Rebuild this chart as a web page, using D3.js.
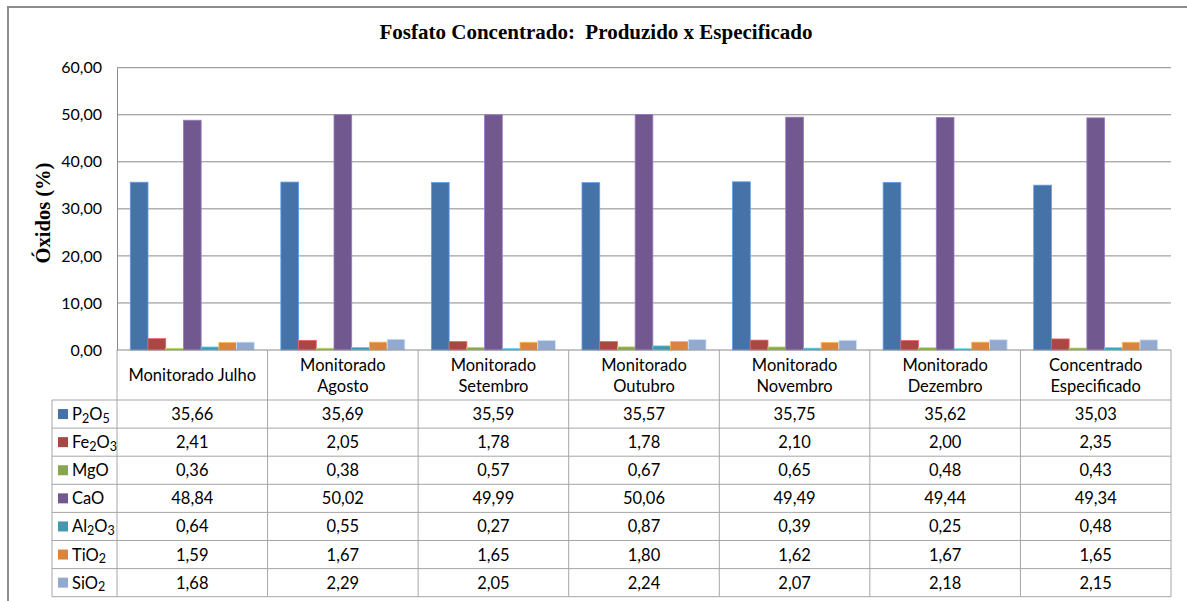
<!DOCTYPE html>
<html><head><meta charset="utf-8">
<script src="https://cdn.jsdelivr.net/npm/d3@7"></script>
<style>
html,body{margin:0;padding:0;background:#fff;}
svg{display:block;}
</style></head>
<body>
<svg id="chart" width="1187" height="601"></svg>
<script>
const categories = ["Monitorado Julho", "Monitorado\nAgosto", "Monitorado\nSetembro", "Monitorado\nOutubro", "Monitorado\nNovembro", "Monitorado\nDezembro", "Concentrado\nEspecificado"];
const series = ["P2O5", "Fe2O3", "MgO", "CaO", "Al2O3", "TiO2", "SiO2"];
const P2O5  = [35.66, 35.69, 35.59, 35.57, 35.75, 35.62, 35.03];
const Fe2O3 = [2.41, 2.05, 1.78, 1.78, 2.10, 2.00, 2.35];
const MgO   = [0.36, 0.38, 0.57, 0.67, 0.65, 0.48, 0.43];
const CaO   = [48.84, 50.02, 49.99, 50.06, 49.49, 49.44, 49.34];
const Al2O3 = [0.64, 0.55, 0.27, 0.87, 0.39, 0.25, 0.48];
const TiO2  = [1.59, 1.67, 1.65, 1.80, 1.62, 1.67, 1.65];
const SiO2  = [1.68, 2.29, 2.05, 2.24, 2.07, 2.18, 2.15];
const yTicks = [0, 10, 20, 30, 40, 50, 60];
const title = "Fosfato Concentrado:  Produzido x Especificado";
const yTitle = "Óxidos (%)";
const colors = ["#4572A7", "#AA4643", "#89A54E", "#71588F", "#4198AF", "#DB843D", "#93A9CF"];

(function () {
const values = [P2O5, Fe2O3, MgO, CaO, Al2O3, TiO2, SiO2];
const locale = d3.formatLocale({decimal: ",", thousands: ".", grouping: [3], currency: ["", ""]});
const fmt = locale.format(".2f");

const svg = d3.select("#chart");
const sansFont = "Lato, 'Open Sans', sans-serif";
const serifFont = "'Liberation Serif', 'DejaVu Serif', serif";
const fs = 16.5;

const pLeft = 117, pRight = 1171, pTop = 67.7, pBottom = 350;
const headerH = 50, rowH = 28.1, legendLeft = 52;
const tableTop = pBottom + headerH;
const tableBottom = tableTop + rowH * series.length;

// outer border
svg.append("rect").attr("x", 8).attr("y", 7).attr("width", 1200).attr("height", 620)
  .attr("fill", "none").attr("stroke", "#8c8c8c").attr("stroke-width", 2);

// title
svg.append("text").attr("x", 596).attr("y", 39).attr("text-anchor", "middle")
  .attr("font-family", serifFont).attr("font-weight", "bold").attr("font-size", 21)
  .attr("fill", "#000").style("white-space", "pre").text(title);

const x0 = d3.scaleBand().domain(categories).range([pLeft, pRight]).paddingInner(0).paddingOuter(0);
const bw = x0.bandwidth() / 8.5;
const x1 = d3.scaleBand().domain(series).range([0.75 * bw, 7.75 * bw]).padding(0);
const y = d3.scaleLinear().domain([0, 60]).range([pBottom, pTop]);

// gridlines
svg.append("g").selectAll("line").data(yTicks.filter(d => d > 0)).join("line")
  .attr("x1", pLeft).attr("x2", pRight)
  .attr("y1", d => y(d)).attr("y2", d => y(d))
  .attr("stroke", "#8a8a8a").attr("stroke-width", 1);

// y axis
const yAxis = d3.axisLeft(y).tickValues(yTicks).tickFormat(fmt).tickSize(0).tickPadding(15);
const yg = svg.append("g").attr("transform", `translate(${pLeft},0)`).call(yAxis);
yg.select(".domain").attr("stroke", "#8a8a8a");
yg.selectAll("text").attr("font-family", sansFont).attr("font-size", 16).attr("fill", "#000");

// y title
svg.append("text").attr("transform", `translate(50,213) rotate(-90)`).attr("text-anchor", "middle")
  .attr("font-family", serifFont).attr("font-weight", "bold").attr("font-size", 20.5)
  .attr("fill", "#000").text(yTitle);

// bars
const barData = [];
categories.forEach((c, ci) => series.forEach((s, si) => barData.push({c, s, si, v: values[si][ci]})));
svg.append("g").selectAll("rect").data(barData).join("rect")
  .attr("x", d => x0(d.c) + x1(d.s))
  .attr("width", x1.bandwidth())
  .attr("y", d => y(d.v))
  .attr("height", d => y(0) - y(d.v))
  .attr("fill", d => colors[d.si])
  .attr("stroke", d => d3.color(colors[d.si]).brighter(0.9))
  .attr("stroke-width", 0.8);

// data table
const lineColor = "#a6a6a6";
const tg = svg.append("g");
tg.append("line").attr("x1", pLeft).attr("x2", pRight).attr("y1", pBottom).attr("y2", pBottom).attr("stroke", "#8a8a8a");
d3.range(series.length + 1).forEach(i => {
  const yy = tableTop + i * rowH;
  tg.append("line").attr("x1", legendLeft).attr("x2", pRight).attr("y1", yy).attr("y2", yy)
    .attr("stroke", lineColor).attr("stroke-width", 1);
});
categories.forEach(c => {
  tg.append("line").attr("x1", x0(c)).attr("x2", x0(c)).attr("y1", pBottom).attr("y2", tableBottom)
    .attr("stroke", lineColor);
});
tg.append("line").attr("x1", pRight).attr("x2", pRight).attr("y1", pBottom).attr("y2", tableBottom).attr("stroke", lineColor);
tg.append("line").attr("x1", legendLeft).attr("x2", legendLeft).attr("y1", tableTop).attr("y2", tableBottom).attr("stroke", lineColor);

// header labels
categories.forEach(c => {
  const lines = c.split("\n");
  const cx = x0(c) + x0.bandwidth() / 2;
  const cy = pBottom + headerH / 2;
  const lh = 21;
  const t = tg.append("text").attr("text-anchor", "middle").attr("font-family", sansFont)
    .attr("font-size", fs).attr("fill", "#000");
  lines.forEach((ln, i) => {
    t.append("tspan").attr("x", cx)
      .attr("y", cy + (i - (lines.length - 1) / 2) * lh + 6).text(ln);
  });
});

// value cells + legend keys
series.forEach((s, si) => {
  const cy = tableTop + si * rowH + rowH / 2;
  categories.forEach((c, ci) => {
    tg.append("text").attr("x", x0(c) + x0.bandwidth() / 2).attr("y", cy + 6)
      .attr("text-anchor", "middle").attr("font-family", sansFont).attr("font-size", fs)
      .attr("fill", "#000").text(fmt(values[si][ci]));
  });
  tg.append("rect").attr("x", 58).attr("y", cy - 5).attr("width", 10).attr("height", 10)
    .attr("fill", colors[si]);
  const t = tg.append("text").attr("x", 72).attr("y", cy + 6)
    .attr("font-family", sansFont).attr("font-size", fs).attr("fill", "#000");
  const parts = s.match(/[A-Za-z]+|\d+/g);
  let sub = false;
  parts.forEach(p => {
    if (/\d/.test(p)) {
      t.append("tspan").attr("font-size", 12.5).attr("dy", sub ? 0 : 2.5).text(p);
      sub = true;
    } else {
      t.append("tspan").attr("dy", sub ? -2.5 : 0).text(p);
      sub = false;
    }
  });
});
})();
</script>
</body></html>
